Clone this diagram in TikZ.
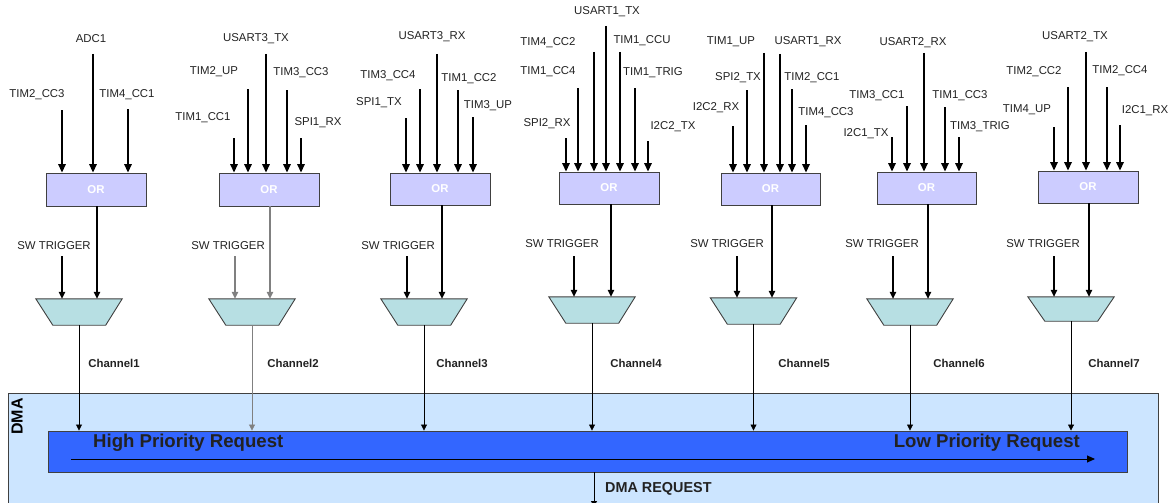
\documentclass[tikz,border=0pt]{standalone}
\usepackage{fontspec}
\setmainfont{Liberation Sans}
\usetikzlibrary{arrows.meta}
\definecolor{orfill}{HTML}{CCCCFF}
\definecolor{muxfill}{HTML}{B7DFE3}
\definecolor{dmabg}{HTML}{CCE5FF}
\definecolor{barfill}{HTML}{3366FF}
\definecolor{edge}{HTML}{404040}
\definecolor{txt}{HTML}{222222}
\tikzset{
  lbl/.style={font=\fontsize{11.4}{12}\selectfont, text=txt, inner sep=0pt},
  chlbl/.style={font=\fontsize{11.4}{12}\selectfont\bfseries, text=txt, inner sep=0pt},
  orbox/.style={draw=edge, line width=0.9pt, fill=orfill, minimum width=100pt, minimum height=33pt, inner sep=0pt, font=\fontsize{11.4}{12}\selectfont\bfseries, text=white},
  muxbox/.style={inner sep=0pt, minimum width=86pt, minimum height=26pt},
  muxshape/.style={draw=edge, line width=0.9pt, fill=muxfill},
  inarr/.style={line width=1.6pt, -{Triangle[length=8.5pt,width=7.5pt]}},
  midarr/.style={line width=1.1pt, -{Triangle[length=7pt,width=6.5pt]}},
  charr/.style={line width=0.8pt, -{Triangle[length=6pt,width=6pt]}},
}
\newcommand\myin[7]{%
  \node[lbl] (t#1) at (#4,#5) {#6};
  \coordinate (s#1) at (#2,#3);
  \draw[inarr] (s#1) -- (s#1 |- #7.north);}
\newcommand\mymux[4]{% name, cx, cy, height
  \node[muxbox, minimum height=#4pt] (#1) at (#2,#3) {};
  \draw[muxshape] (#1.north west) -- (#1.north east) -- ([xshift=-16.5pt]#1.south east) -- ([xshift=17pt]#1.south west) -- cycle;}
\begin{document}
\begin{tikzpicture}[x=1pt,y=-1pt]
\useasboundingbox (0,0) rectangle (1172,503);
% DMA area
\node[draw=edge, line width=0.9pt, fill=dmabg, minimum width=1150pt, minimum height=130pt, inner sep=0pt, anchor=north west] (dma) at (8,393) {};
\node[font=\fontsize{16}{17}\selectfont\bfseries, text=black, rotate=90, inner sep=0pt] (dmalbl) at (17,416.5) {DMA};
\node[draw=edge, line width=0.9pt, fill=barfill, minimum width=1079pt, minimum height=41pt, inner sep=0pt] (bar) at (587.5,451.5) {};
\node[font=\fontsize{18.6}{20}\selectfont\bfseries, text=txt, inner sep=0pt, anchor=west] (hp) at (93,443) {High Priority Request};
\node[font=\fontsize{18.6}{20}\selectfont\bfseries, text=txt, inner sep=0pt, anchor=east] (lp) at (1080,443) {Low Priority Request};
\coordinate (prs) at (71,459);
\coordinate (pre) at (1095,459);
\draw[line width=0.9pt, -{Triangle[length=8pt,width=7pt]}] (prs) -- (pre);
\coordinate (dmaout) at (594,507);
\draw[charr, line width=0.9pt] (bar.south -| dmaout) -- (dmaout);
\node[font=\fontsize{14.4}{15}\selectfont\bfseries, text=txt, inner sep=0pt, anchor=west] (dmareq) at (605,489) {DMA REQUEST};

% OR boxes
\node[orbox] (or1) at (96,189.5) {OR};
\node[orbox] (or2) at (269,189.5) {OR};
\node[orbox, minimum height=32pt] (or3) at (440,189) {OR};
\node[orbox, minimum height=32pt] (or4) at (609,188) {OR};
\node[orbox, minimum height=32pt, minimum width=99pt] (or5) at (770.5,189) {OR};
\node[orbox, minimum height=32pt, minimum width=99pt] (or6) at (926.5,188) {OR};
\node[orbox, minimum height=32pt] (or7) at (1088,187) {OR};

% inputs column 1
\myin{1a}{62}{110}{37}{95}{TIM2\_CC3}{or1}
\myin{1b}{93}{54}{91}{39}{ADC1}{or1}
\myin{1c}{128}{109}{127}{95}{TIM4\_CC1}{or1}
% column 2
\myin{2a}{234}{138}{203}{118}{TIM1\_CC1}{or2}
\myin{2b}{248}{89}{214}{72}{TIM2\_UP}{or2}
\myin{2c}{266}{54}{256}{39}{USART3\_TX}{or2}
\myin{2d}{287}{90}{301}{73}{TIM3\_CC3}{or2}
\myin{2e}{301}{138}{318}{123}{SPI1\_RX}{or2}
% column 3
\myin{3a}{406}{118}{379}{103}{SPI1\_TX}{or3}
\myin{3b}{420}{89}{388}{76}{TIM3\_CC4}{or3}
\myin{3c}{437}{54}{432}{37}{USART3\_RX}{or3}
\myin{3d}{458}{90}{469}{79}{TIM1\_CC2}{or3}
\myin{3e}{473}{117}{488}{106}{TIM3\_UP}{or3}
% column 4
\myin{4a}{566}{138}{547}{124}{SPI2\_RX}{or4}
\myin{4b}{578}{88}{548}{72}{TIM1\_CC4}{or4}
\myin{4c}{594}{52}{548}{43}{TIM4\_CC2}{or4}
\myin{4d}{606}{26}{607}{12}{USART1\_TX}{or4}
\myin{4e}{620}{52}{642}{41}{TIM1\_CCU}{or4}
\myin{4f}{635}{88}{653}{73}{TIM1\_TRIG}{or4}
\myin{4g}{648}{141}{673}{127}{I2C2\_TX}{or4}
% column 5
\myin{5a}{733}{126}{716}{108}{I2C2\_RX}{or5}
\myin{5b}{747}{90}{738}{78}{SPI2\_TX}{or5}
\myin{5c}{764}{53}{731}{42}{TIM1\_UP}{or5}
\myin{5d}{780}{54}{808}{42}{USART1\_RX}{or5}
\myin{5e}{792}{89}{812}{78}{TIM2\_CC1}{or5}
\myin{5f}{806}{125}{826}{113}{TIM4\_CC3}{or5}
% column 6
\myin{6a}{892}{137}{866}{134}{I2C1\_TX}{or6}
\myin{6b}{907}{106}{877}{96}{TIM3\_CC1}{or6}
\myin{6c}{924}{53}{913}{43}{USART2\_RX}{or6}
\myin{6d}{945}{107}{960}{96}{TIM1\_CC3}{or6}
\myin{6e}{959}{137}{980}{127}{TIM3\_TRIG}{or6}
% column 7
\myin{7a}{1054}{127}{1027}{110}{TIM4\_UP}{or7}
\myin{7b}{1068}{87}{1034}{72}{TIM2\_CC2}{or7}
\myin{7c}{1086}{52}{1075}{37}{USART2\_TX}{or7}
\myin{7d}{1107}{87}{1120}{71}{TIM2\_CC4}{or7}
\myin{7e}{1120}{125}{1145}{111}{I2C1\_RX}{or7}

% multiplexers
\mymux{m1}{79}{312}{26}
\mymux{m2}{252}{312}{26}
\mymux{m3}{424}{312}{26}
\mymux{m4}{592}{310}{26}
\mymux{m5}{753.5}{311}{26}
\mymux{m6}{910}{312}{26}
\mymux{m7}{1071}{309}{24}

% SW trigger labels and arrows, OR outputs, channels
\foreach \k/\lx/\ly/\sx/\ox/\cx/\col in {1/54/246/62/97/114/black, 2/228/246/235/270/293/gray, 3/398/246/407/442/462/black, 4/562/244/574/611/636/black, 5/727/244/737/772/804/black, 6/882/244/893/928/959/black, 7/1043/244/1054/1089/1114/black}{
  \node[lbl] (sw\k) at (\lx,\ly) {SW TRIGGER};
  \coordinate (swc\k) at (\sx,256);
  \draw[midarr, draw=\col, fill=\col] (swc\k) -- (swc\k |- m\k.north);
  \coordinate (orc\k) at (\ox,0);
  \draw[midarr, draw=\col, fill=\col] (or\k.south -| orc\k) -- (orc\k |- m\k.north);
  \draw[charr, draw=\col, fill=\col] (m\k.south) -- (m\k.south |- bar.north);
  \node[chlbl] (ch\k) at (\cx,363.5) {Channel\k};
}
\end{tikzpicture}
\end{document}
